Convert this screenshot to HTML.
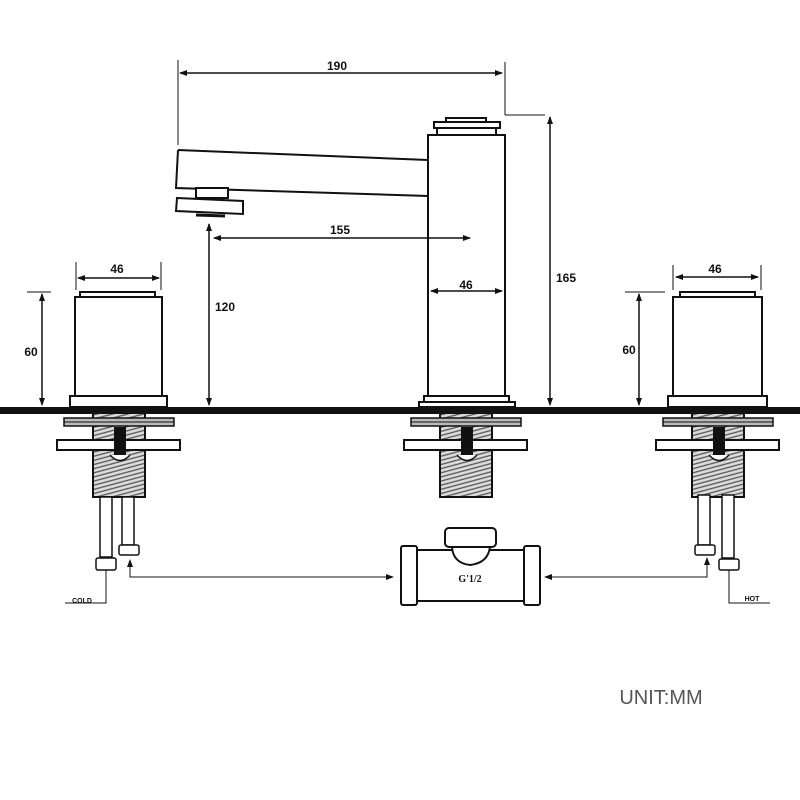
<!DOCTYPE html>
<html><head><meta charset="utf-8"><style>
html,body{margin:0;padding:0;background:#fff;}
svg{display:block;}
text{font-family:"Liberation Sans",sans-serif;font-weight:bold;fill:#111;}
</style></head><body>
<svg width="800" height="800" viewBox="0 0 800 800" xmlns="http://www.w3.org/2000/svg">
<defs>
<pattern id="h" width="4" height="4" patternUnits="userSpaceOnUse" patternTransform="rotate(-15)">
<rect width="4" height="4" fill="#ddd"/><line x1="0" y1="1" x2="4" y2="1" stroke="#555" stroke-width="1.3"/></pattern>
<marker id="a" markerWidth="8" markerHeight="8" refX="7" refY="4" orient="auto-start-reverse" markerUnits="userSpaceOnUse"><path d="M0,1 L8,4 L0,7 z" fill="#111"/></marker>
</defs>
<g fill="none" stroke="#111" stroke-width="2">
<!-- ground -->
<rect x="0" y="407" width="800" height="7" fill="#111" stroke="none"/>

<!-- LEFT handle -->
<rect x="80" y="292" width="75" height="5" fill="#fff"/>
<rect x="75" y="297" width="87" height="99" fill="#fff"/>
<rect x="70" y="396" width="97" height="11" fill="#fff"/>
<line x1="76" y1="262" x2="76" y2="290" stroke-width="1"/>
<line x1="161" y1="262" x2="161" y2="290" stroke-width="1"/>
<line x1="78" y1="278" x2="159" y2="278" stroke-width="1.5" marker-start="url(#a)" marker-end="url(#a)"/>
<line x1="27" y1="292" x2="51" y2="292" stroke-width="1"/>
<line x1="42" y1="294" x2="42" y2="405" stroke-width="1.5" marker-start="url(#a)" marker-end="url(#a)"/>

<!-- CENTER spout & body -->
<path d="M178,150 L428,160 M178,150 L176,188 L428,196" />
<rect x="196" y="188" width="32" height="10" fill="#fff"/>
<path d="M177,198 L243,201 L243,214 L176,211 Z" fill="#fff"/>
<line x1="196" y1="215" x2="225" y2="216" stroke-width="3"/>
<rect x="428" y="135" width="77" height="262" fill="#fff"/>
<rect x="437" y="128" width="59" height="7" fill="#fff"/>
<rect x="434" y="122" width="66" height="6" fill="#fff"/>
<rect x="446" y="118" width="40" height="4" fill="#fff"/>
<rect x="424" y="396" width="85" height="6" fill="#fff"/>
<rect x="419" y="402" width="96" height="5" fill="#fff"/>
<!-- dims -->
<line x1="178" y1="60" x2="178" y2="145" stroke-width="1"/>
<line x1="505" y1="62" x2="505" y2="115" stroke-width="1"/>
<line x1="505" y1="115" x2="545" y2="115" stroke-width="1"/>
<line x1="180" y1="73" x2="502" y2="73" stroke-width="1.5" marker-start="url(#a)" marker-end="url(#a)"/>
<line x1="550" y1="117" x2="550" y2="405" stroke-width="1.5" marker-start="url(#a)" marker-end="url(#a)"/>
<line x1="214" y1="238" x2="470" y2="238" stroke-width="1.5" marker-start="url(#a)" marker-end="url(#a)"/>
<line x1="209" y1="224" x2="209" y2="405" stroke-width="1.5" marker-start="url(#a)" marker-end="url(#a)"/>
<line x1="431" y1="291" x2="502" y2="291" stroke-width="1.5" marker-start="url(#a)" marker-end="url(#a)"/>

<!-- RIGHT handle -->
<rect x="680" y="292" width="75" height="5" fill="#fff"/>
<rect x="673" y="297" width="89" height="99" fill="#fff"/>
<rect x="668" y="396" width="99" height="11" fill="#fff"/>
<line x1="673" y1="265" x2="673" y2="290" stroke-width="1"/>
<line x1="761" y1="265" x2="761" y2="290" stroke-width="1"/>
<line x1="676" y1="277" x2="758" y2="277" stroke-width="1.5" marker-start="url(#a)" marker-end="url(#a)"/>
<line x1="625" y1="292" x2="665" y2="292" stroke-width="1"/>
<line x1="639" y1="294" x2="639" y2="405" stroke-width="1.5" marker-start="url(#a)" marker-end="url(#a)"/>

<!-- under-counter assemblies -->
<g id="u">
<rect x="93" y="413" width="52" height="84" fill="url(#h)"/>
<rect x="64" y="418" width="110" height="8" fill="#bbb" stroke-width="1.5"/>
<line x1="64" y1="422" x2="174" y2="422" stroke-width="1"/>
<rect x="57" y="440" width="123" height="10" fill="#fff"/>
<rect x="114" y="427" width="12" height="28" fill="#111" stroke="none"/>
<path d="M110,455 Q120,466 130,455" fill="#fff" stroke-width="1.5"/>
</g>
<use href="#u" x="347"/>
<use href="#u" x="599"/>

<!-- left pipes -->
<g stroke-width="1.5" fill="#fff">
<rect x="100" y="497" width="12" height="60"/>
<rect x="96" y="558" width="20" height="12" rx="2"/>
<rect x="122" y="497" width="12" height="48"/>
<rect x="119" y="545" width="20" height="10" rx="2"/>
<rect x="698" y="495" width="12" height="50"/>
<rect x="695" y="545" width="20" height="10" rx="2"/>
<rect x="722" y="495" width="12" height="63"/>
<rect x="719" y="559" width="20" height="11" rx="2"/>
</g>
<g stroke-width="1">
<path d="M130,560 L130,577 L393,577" marker-start="url(#a)" marker-end="url(#a)"/>
<path d="M707,558 L707,577 L545,577" marker-start="url(#a)" marker-end="url(#a)"/>
<path d="M106,570 L106,603 L65,603"/>
<path d="M729,570 L729,603 L770,603"/>
</g>

<!-- T fitting -->
<g stroke-width="2" fill="#fff">
<rect x="417" y="550" width="107" height="51"/>
<path d="M452,547 Q453,563 470,565 Q488,563 490,547"/>
<rect x="445" y="528" width="51" height="19" rx="4"/>
<rect x="401" y="546" width="16" height="59" rx="2"/>
<rect x="524" y="546" width="16" height="59" rx="2"/>
</g>
</g>

<text x="337" y="70" font-size="12" text-anchor="middle">190</text>
<text x="340" y="234" font-size="12" text-anchor="middle">155</text>
<text x="466" y="289" font-size="12" text-anchor="middle">46</text>
<text x="566" y="282" font-size="12" text-anchor="middle">165</text>
<text x="225" y="311" font-size="12" text-anchor="middle">120</text>
<text x="117" y="273" font-size="12" text-anchor="middle">46</text>
<text x="31" y="356" font-size="12" text-anchor="middle">60</text>
<text x="715" y="273" font-size="12" text-anchor="middle">46</text>
<text x="629" y="354" font-size="12" text-anchor="middle">60</text>
<text x="82" y="603" font-size="7" text-anchor="middle">COLD</text>
<text x="752" y="601" font-size="7" text-anchor="middle">HOT</text>
<text x="470" y="582" font-size="10" text-anchor="middle" style="font-family:'Liberation Serif',serif">G'1/2</text>
<text x="661" y="704" font-size="20" text-anchor="middle" style="font-weight:normal;fill:#555">UNIT:MM</text>
</svg>
</body></html>
